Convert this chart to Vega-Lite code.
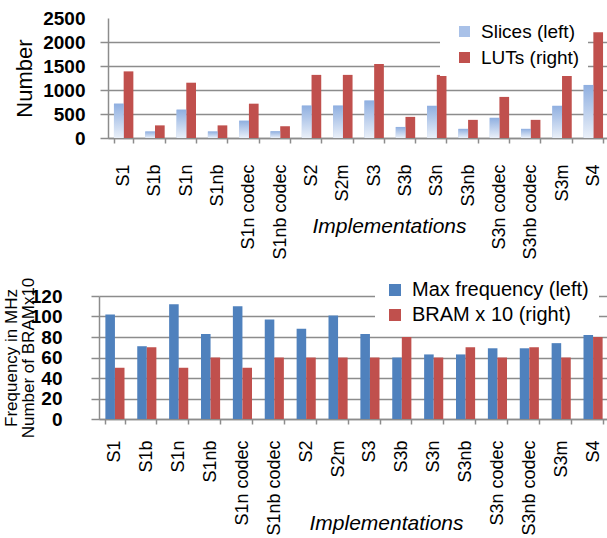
{
  "$schema": "https://vega.github.io/schema/vega-lite/v6.json",
  "padding": {"left": 2, "top": 9, "right": 0, "bottom": 0},
  "autosize": {"type": "pad"},
  "background": "white",
  "spacing": 10,
  "resolve": {
    "scale": {"x": "independent", "y": "independent", "xOffset": "independent", "color": "independent"},
    "legend": {"color": "independent"},
    "axis": {"x": "independent", "y": "independent"}
  },
  "config": {
    "view": {"stroke": null},
    "font": "Liberation Sans",
    "axis": {"labelColor": "black", "titleColor": "black", "titleFontWeight": "normal"}
  },
  "vconcat": [
    {
      "width": 510,
      "height": 120,
      "data": {"values": [
        {"impl": "S1", "series": "Slices (left)", "value": 715},
        {"impl": "S1", "series": "LUTs (right)", "value": 1388},
        {"impl": "S1b", "series": "Slices (left)", "value": 135},
        {"impl": "S1b", "series": "LUTs (right)", "value": 263},
        {"impl": "S1n", "series": "Slices (left)", "value": 590},
        {"impl": "S1n", "series": "LUTs (right)", "value": 1152},
        {"impl": "S1nb", "series": "Slices (left)", "value": 135},
        {"impl": "S1nb", "series": "LUTs (right)", "value": 263},
        {"impl": "S1n codec", "series": "Slices (left)", "value": 360},
        {"impl": "S1n codec", "series": "LUTs (right)", "value": 715},
        {"impl": "S1nb codec", "series": "Slices (left)", "value": 140},
        {"impl": "S1nb codec", "series": "LUTs (right)", "value": 245},
        {"impl": "S2", "series": "Slices (left)", "value": 675},
        {"impl": "S2", "series": "LUTs (right)", "value": 1315},
        {"impl": "S2m", "series": "Slices (left)", "value": 675},
        {"impl": "S2m", "series": "LUTs (right)", "value": 1315},
        {"impl": "S3", "series": "Slices (left)", "value": 780},
        {"impl": "S3", "series": "LUTs (right)", "value": 1542},
        {"impl": "S3b", "series": "Slices (left)", "value": 230},
        {"impl": "S3b", "series": "LUTs (right)", "value": 440},
        {"impl": "S3n", "series": "Slices (left)", "value": 670},
        {"impl": "S3n", "series": "LUTs (right)", "value": 1315},
        {"impl": "S3nb", "series": "Slices (left)", "value": 190},
        {"impl": "S3nb", "series": "LUTs (right)", "value": 378},
        {"impl": "S3n codec", "series": "Slices (left)", "value": 420},
        {"impl": "S3n codec", "series": "LUTs (right)", "value": 856},
        {"impl": "S3nb codec", "series": "Slices (left)", "value": 190},
        {"impl": "S3nb codec", "series": "LUTs (right)", "value": 378},
        {"impl": "S3m", "series": "Slices (left)", "value": 670},
        {"impl": "S3m", "series": "LUTs (right)", "value": 1315},
        {"impl": "S4", "series": "Slices (left)", "value": 1105},
        {"impl": "S4", "series": "LUTs (right)", "value": 2202}
      ]},
      "encoding": {
        "x": {
          "field": "impl", "type": "nominal", "sort": null,
          "scale": {"paddingInner": 0.38, "paddingOuter": 0.19, "range": [9, 510]},
          "axis": {
            "title": "Implementations", "titleFontStyle": "italic", "titleFontSize": 21,
            "titleX": 290, "titleY": 94, "titleBaseline": "alphabetic", "titleAlign": "center", "titleAngle": 0,
            "labelAngle": -90, "labelAlign": "right", "labelBaseline": "middle",
            "labelFontSize": 18, "labelPadding": 21, "labelOverlap": false,
            "tickBand": "extent", "tickSize": 5, "tickColor": "#8c8c8c", "tickWidth": 1.5,
            "domainColor": "#8c8c8c", "domainWidth": 1.5, "grid": false
          }
        },
        "xOffset": {"field": "series", "type": "nominal", "sort": ["Slices (left)", "LUTs (right)"]},
        "y": {
          "field": "value", "type": "quantitative",
          "scale": {"domain": [0, 2500], "nice": false},
          "axis": {
            "title": "Number", "titleFontSize": 22, "titlePadding": 6, "format": "d",
            "offset": -9,
            "values": [0, 500, 1000, 1500, 2000, 2500],
            "labelFontSize": 19, "labelFontWeight": "bold", "labelPadding": 15,
            "tickSize": 8, "tickWidth": 1.5,
            "tickColor": {"condition": {"test": "datum.value == 2500", "value": "transparent"}, "value": "#8c8c8c"},
            "grid": true, "gridWidth": 1.5,
            "gridColor": {"condition": {"test": "datum.value == 2500", "value": "transparent"}, "value": "#8c8c8c"},
            "domainColor": "#8c8c8c", "domainWidth": 1.5
          }
        }
      },
      "layer": [
        {
          "mark": {"type": "bar"},
          "encoding": {
            "color": {
              "field": "series", "type": "nominal",
              "scale": {"domain": ["Slices (left)", "LUTs (right)"], "range": ["#a9c1e8", "#c0504d"]},
              "legend": {
                "title": null, "orient": "none", "legendX": 341, "legendY": -4,
                "fillColor": "white", "padding": 8, "symbolOffset": 7, "symbolType": "square", "symbolSize": 121,
                "symbolStrokeWidth": 0, "labelFontSize": 19, "labelColor": "black",
                "labelOffset": 7, "rowPadding": 6, "labelLimit": 300
              }
            }
          }
        },
        {
          "transform": [{"filter": "datum.series == 'Slices (left)'"}],
          "mark": {
            "type": "bar",
            "color": {
              "gradient": "linear", "x1": 0, "y1": 0, "x2": 0, "y2": 1,
              "stops": [{"offset": 0, "color": "#8fafe0"}, {"offset": 1, "color": "#eaf0f9"}]
            }
          }
        }
      ]
    },
    {
      "width": 510,
      "height": 123,
      "data": {"values": [
        {"impl": "S1", "series": "Max frequency (left)", "value": 102},
        {"impl": "S1", "series": "BRAM x 10 (right)", "value": 50},
        {"impl": "S1b", "series": "Max frequency (left)", "value": 71},
        {"impl": "S1b", "series": "BRAM x 10 (right)", "value": 70},
        {"impl": "S1n", "series": "Max frequency (left)", "value": 112},
        {"impl": "S1n", "series": "BRAM x 10 (right)", "value": 50},
        {"impl": "S1nb", "series": "Max frequency (left)", "value": 83},
        {"impl": "S1nb", "series": "BRAM x 10 (right)", "value": 60},
        {"impl": "S1n codec", "series": "Max frequency (left)", "value": 110},
        {"impl": "S1n codec", "series": "BRAM x 10 (right)", "value": 50},
        {"impl": "S1nb codec", "series": "Max frequency (left)", "value": 97},
        {"impl": "S1nb codec", "series": "BRAM x 10 (right)", "value": 60},
        {"impl": "S2", "series": "Max frequency (left)", "value": 88},
        {"impl": "S2", "series": "BRAM x 10 (right)", "value": 60},
        {"impl": "S2m", "series": "Max frequency (left)", "value": 101},
        {"impl": "S2m", "series": "BRAM x 10 (right)", "value": 60},
        {"impl": "S3", "series": "Max frequency (left)", "value": 83},
        {"impl": "S3", "series": "BRAM x 10 (right)", "value": 60},
        {"impl": "S3b", "series": "Max frequency (left)", "value": 60},
        {"impl": "S3b", "series": "BRAM x 10 (right)", "value": 80},
        {"impl": "S3n", "series": "Max frequency (left)", "value": 63},
        {"impl": "S3n", "series": "BRAM x 10 (right)", "value": 60},
        {"impl": "S3nb", "series": "Max frequency (left)", "value": 63},
        {"impl": "S3nb", "series": "BRAM x 10 (right)", "value": 70},
        {"impl": "S3n codec", "series": "Max frequency (left)", "value": 69},
        {"impl": "S3n codec", "series": "BRAM x 10 (right)", "value": 60},
        {"impl": "S3nb codec", "series": "Max frequency (left)", "value": 69},
        {"impl": "S3nb codec", "series": "BRAM x 10 (right)", "value": 70},
        {"impl": "S3m", "series": "Max frequency (left)", "value": 74},
        {"impl": "S3m", "series": "BRAM x 10 (right)", "value": 60},
        {"impl": "S4", "series": "Max frequency (left)", "value": 103},
        {"impl": "S4", "series": "BRAM x 10 (right)", "value": 80}
      ]},
      "mark": {"type": "bar"},
      "encoding": {
        "x": {
          "field": "impl", "type": "nominal", "sort": null,
          "scale": {"paddingInner": 0.4, "paddingOuter": 0.2},
          "axis": {
            "title": "Implementations", "titleFontStyle": "italic", "titleFontSize": 21,
            "titleX": 287, "titleY": 110, "titleBaseline": "alphabetic", "titleAlign": "center", "titleAngle": 0,
            "labelAngle": -90, "labelAlign": "right", "labelBaseline": "middle",
            "labelFontSize": 18, "labelPadding": 16, "labelOverlap": false,
            "tickBand": "extent", "tickSize": 5, "tickColor": "#8c8c8c", "tickWidth": 1.5,
            "domainColor": "#8c8c8c", "domainWidth": 1.5, "grid": false
          }
        },
        "xOffset": {"field": "series", "type": "nominal", "sort": ["Max frequency (left)", "BRAM x 10 (right)"]},
        "y": {
          "field": "value", "type": "quantitative",
          "scale": {"domain": [0, 120], "nice": false},
          "axis": {
            "title": ["Frequency in MHz", "Number of BRAMx10"], "titleFontSize": 17, "titleLineHeight": 17,
            "titlePadding": -7, "format": "d",
            "values": [0, 20, 40, 60, 80, 100, 120],
            "labelFontSize": 19, "labelFontWeight": "bold", "labelPadding": 29,
            "tickSize": 8, "tickWidth": 1.5, "tickColor": "#8c8c8c",
            "grid": true, "gridWidth": 1.5, "gridColor": "#8c8c8c",
            "domainColor": "#8c8c8c", "domainWidth": 1.5
          }
        },
        "color": {
          "field": "series", "type": "nominal",
          "scale": {"domain": ["Max frequency (left)", "BRAM x 10 (right)"], "range": ["#4f81bd", "#c0504d"]},
          "legend": {
            "title": null, "orient": "none", "legendX": 276, "legendY": -26,
            "fillColor": "white", "padding": 10, "symbolType": "square", "symbolSize": 144,
            "symbolStrokeWidth": 0, "labelFontSize": 20, "labelColor": "black",
            "labelOffset": 7, "rowPadding": 5, "labelLimit": 300
          }
        }
      }
    }
  ]
}
